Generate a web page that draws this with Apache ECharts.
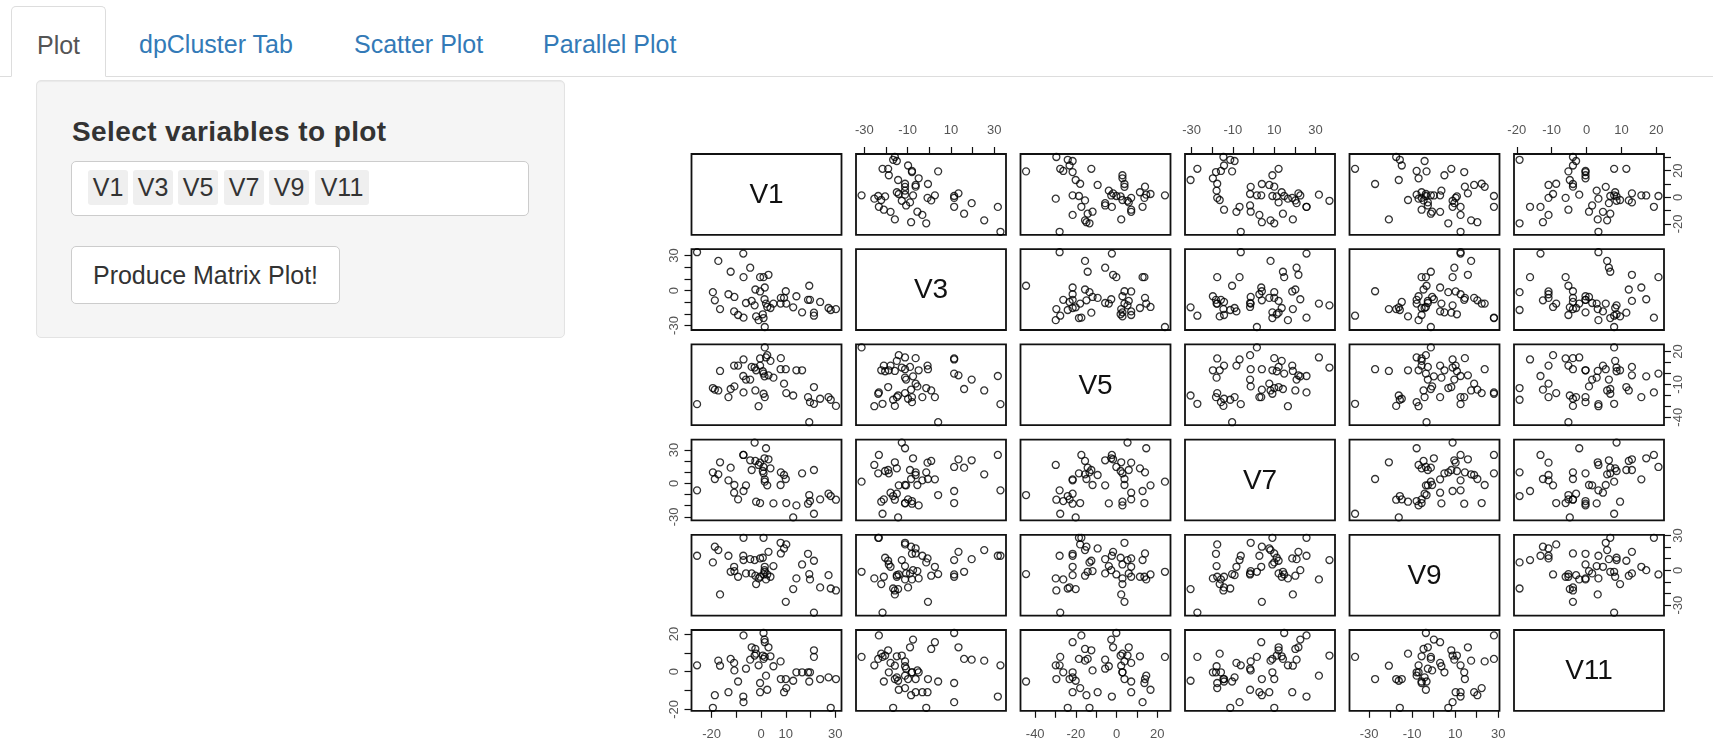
<!DOCTYPE html>
<html>
<head>
<meta charset="utf-8">
<title>Matrix Plot</title>
<script src="https://cdn.jsdelivr.net/npm/echarts@6/dist/echarts.min.js"></script>
<style>
  html, body { margin: 0; padding: 0; background: #fff; }
  body { width: 1713px; height: 745px; overflow: hidden; position: relative;
         font-family: "Liberation Sans", Arial, Helvetica, sans-serif; color: #333; }
  .tabbar { position: absolute; left: 0; top: 0; width: 1713px; height: 76px; border-bottom: 1px solid #ddd; }
  .tab { position: absolute; top: 6px; height: 70px; line-height: 76px; font-size: 25px; color: #337ab7; white-space: nowrap; }
  .tab.active { left: 11px; width: 95px; height: 71px; box-sizing: border-box; border: 1px solid #ddd;
                border-bottom: 1px solid #fff; border-radius: 5px 5px 0 0; background: #fff; color: #555; text-align: center; }
  .well { position: absolute; left: 36px; top: 80px; width: 529px; height: 258px; box-sizing: border-box;
          background: #f5f5f5; border: 1px solid #e3e3e3; border-radius: 5px; box-shadow: inset 0 1px 1px rgba(0,0,0,.05); }
  .lbl { position: absolute; left: 72px; top: 116px; font-size: 28px; letter-spacing: 0.4px; font-weight: bold; color: #333; white-space: nowrap; }
  .sel { position: absolute; left: 71px; top: 161px; width: 458px; height: 55px; box-sizing: border-box;
         background: #fff; border: 1px solid #ccc; border-radius: 5px; }
  .chip { position: absolute; top: 170px; height: 35px; line-height: 35px; background: #efefef; border-radius: 3px;
          font-size: 25px; color: #333; text-align: center; }
  .btn { position: absolute; left: 71px; top: 246px; width: 269px; height: 58px; box-sizing: border-box;
         background: #fff; border: 1px solid #ccc; border-radius: 5px; font-size: 25px; line-height: 56px;
         color: #333; text-align: center; white-space: nowrap; }
  #matrix { position: absolute; left: 590px; top: 80px; width: 1123px; height: 665px; }
</style>
</head>
<body>
  <div class="tabbar"></div>
  <div class="tab active">Plot</div>
  <div class="tab" style="left:139px">dpCluster Tab</div>
  <div class="tab" style="left:354px">Scatter Plot</div>
  <div class="tab" style="left:543px">Parallel Plot</div>

  <div class="well"></div>
  <div class="lbl">Select variables to plot</div>
  <div class="sel"></div>
  <div class="chip" style="left:88px;width:40px">V1</div>
  <div class="chip" style="left:133px;width:40px">V3</div>
  <div class="chip" style="left:178px;width:40px">V5</div>
  <div class="chip" style="left:224px;width:40px">V7</div>
  <div class="chip" style="left:269px;width:40px">V9</div>
  <div class="chip" style="left:315px;width:54px">V11</div>
  <div class="btn">Produce Matrix Plot!</div>

  <div id="matrix"></div>

<script>
// Variables shown in the scatterplot matrix (one value per observation)
const VARS = ['V1', 'V3', 'V5', 'V7', 'V9', 'V11'];

const V1  = [-25.9,-19.5,-18.7,-17.3,-16.6,-13.2,-12.3,-10.9,-10.8,-9.3,-7.2,-7.1,-7.1,-6.1,-4.4,-3.8,-2.6,-2.3,-2.0,-1.0,-0.4,-0.4,0.7,1.0,1.0,1.4,1.5,1.5,2.0,2.5,3.0,3.8,5.0,7.9,8.0,9.3,10.0,10.2,13.0,14.3,16.6,19.0,19.5,19.8,21.4,21.4,23.9,27.3,28.2,30.3];
const V3  = [32.9,-1.4,-8.4,25.4,-15.9,-3.2,16.1,-17.9,-5.5,-21.0,31.7,11.5,-23.3,-10.7,19.6,-8.9,-12.7,0.9,-22.2,-25.4,11.5,-0.8,-20.4,11.5,-23.6,-7.5,2.6,-31.3,-11.2,-14.1,13.5,-15.0,-11.2,-11.2,-6.3,-6.3,-0.6,-11.2,-14.4,-4.9,-18.7,-8.0,4.1,-8.0,-19.0,-21.6,-9.8,-15.0,-16.7,-15.9];
const V5  = [-28.0,-13.3,-14.8,-15.5,2.3,-21.6,-14.2,7.2,-11.8,7.2,-2.3,12.8,-17.3,-5.6,-5.6,6.0,5.4,-15.5,2.9,-29.9,13.7,7.2,2.0,-0.1,-18.5,-2.6,-21.6,23.8,14.6,16.7,-1.7,11.5,-3.8,3.9,14.0,-9.3,3.9,-17.9,-20.1,2.9,2.9,-21.6,-44.5,-26.2,-12.4,-27.7,-23.1,-21.6,-24.0,-29.6];
const V7  = [-6.2,10.0,4.0,8.2,19.0,2.8,14.2,-8.3,-1.4,-14.3,25.6,-6.8,25.6,-1.7,20.8,12.1,36.7,20.2,-16.4,16.6,-17.6,18.7,11.2,14.8,9.1,22.6,3.7,1.6,31.6,-1.7,21.7,13.6,-17.9,-1.4,10.0,7.6,4.0,-17.6,-30.5,-19.7,9.1,-18.2,-10.4,-15.8,12.1,-27.2,-14.3,-9.2,-11.3,-14.6];
const V9  = [12.5,6.8,20.3,17.4,-20.8,12.5,-1.3,3.0,-0.7,-5.6,12.5,8.8,28.0,-2.7,9.6,-2.7,8.8,-4.7,-11.9,-7.0,-5.6,10.2,10.8,-3.6,28.0,0.1,3.0,-1.3,-7.9,-3.6,15.9,-5.6,3.6,23.7,14.5,18.8,-27.2,22.3,-16.2,-7.0,5.0,14.2,-3.3,-7.9,8.2,-36.5,-14.8,-4.2,-15.7,-17.4];
const V11 = [3.4,-19.2,-12.5,5.9,3.2,-10.9,6.8,4.7,0.7,-5.2,-13.2,-16.2,19.3,1.6,6.4,13.0,8.6,12.1,9.6,3.4,-6.0,-10.9,8.6,20.6,6.8,17.1,15.7,7.9,-2.1,-9.6,13.0,8.2,2.9,5.5,-3.9,-10.9,-3.9,-8.7,-4.8,-0.3,-0.3,-0.3,-5.2,-0.3,11.4,7.9,-3.9,-3.0,-19.2,-3.9];

// Tick positions per variable
const TICKS_V1  = [-20, -10, 0, 10, 20, 30];
const TICKS_V3  = [-30, -20, -10, 0, 10, 20, 30];
const TICKS_V5  = [-40, -30, -20, -10, 0, 10, 20];
const TICKS_V7  = [-30, -20, -10, 0, 10, 20, 30];
const TICKS_V9  = [-30, -20, -10, 0, 10, 20, 30];
const TICKS_V11 = [-20, -10, 0, 10, 20];

// Tick labels that are printed on each outer side
const LABELS_TOP    = { V3: [-30, -10, 10, 30], V7: [-30, -10, 10, 30], V11: [-20, -10, 0, 10, 20] };
const LABELS_BOTTOM = { V1: [-20, 0, 10, 30], V5: [-40, -20, 0, 20], V9: [-30, -10, 10, 30] };
const LABELS_LEFT   = { V3: [-30, 0, 30], V7: [-30, 0, 30], V11: [-20, 0, 20] };
const LABELS_RIGHT  = { V1: [-20, 0, 20], V5: [-40, -10, 20], V9: [-30, 0, 30] };

const DATA  = { V1, V3, V5, V7, V9, V11 };
const TICKS = { V1: TICKS_V1, V3: TICKS_V3, V5: TICKS_V5, V7: TICKS_V7, V9: TICKS_V9, V11: TICKS_V11 };

// Panel geometry inside the chart container (px)
const PANEL = { left: 101.5, top: 74, w: 150, h: 80.8, dx: 164.5, dy: 95.2 };
const FONT = '"Liberation Sans", Arial, Helvetica, sans-serif';
const LABEL_MARGIN = { top: 17, bottom: 17, left: 11, right: 8 };

// Data range widened by 4% on each side
function paddedRange(arr) {
  const lo = Math.min(...arr), hi = Math.max(...arr), pad = (hi - lo) * 0.04;
  return [lo - pad, hi + pad];
}

function axisDef(gridIndex, range, position, ticks, labels, vertical) {
  const shown = !!position;
  return {
    type: 'value', gridIndex: gridIndex,
    min: range[0], max: range[1],
    position: position || (vertical ? 'left' : 'bottom'),
    axisLine: { show: false, onZero: false },
    splitLine: { show: false },
    axisTick: { show: shown, inside: false, length: 7, customValues: ticks,
                lineStyle: { color: '#111', width: 1.2 } },
    axisLabel: { show: shown, customValues: labels || [], rotate: vertical ? 90 : 0,
                 margin: shown ? LABEL_MARGIN[position] : 8, fontSize: 13, color: '#555', fontFamily: FONT },
    silent: true
  };
}

const n = VARS.length;
const grids = [], xAxes = [], yAxes = [], series = [], texts = [];

for (let i = 0; i < n; i++) {
  for (let j = 0; j < n; j++) {
    const k = i * n + j;
    const left = PANEL.left + j * PANEL.dx, top = PANEL.top + i * PANEL.dy;
    grids.push({ left: left, top: top, width: PANEL.w, height: PANEL.h,
                 show: true, borderColor: '#111', borderWidth: 1.8, backgroundColor: 'transparent',
                 containLabel: false, outerBoundsMode: 'none' });
    const xv = VARS[j], yv = VARS[i];
    const xr = paddedRange(DATA[xv]), yr = paddedRange(DATA[yv]);

    if (i === j) {
      xAxes.push({ type: 'value', gridIndex: k, show: false, min: 0, max: 1 });
      yAxes.push({ type: 'value', gridIndex: k, show: false, min: 0, max: 1 });
      texts.push({ type: 'text', x: left + PANEL.w / 2, y: top + PANEL.h / 2 + 1, silent: true,
                   style: { text: xv, font: '28px ' + FONT, fill: '#111',
                            textAlign: 'center', textVerticalAlign: 'middle' } });
      continue;
    }

    let xPos = null, xLab = null, yPos = null, yLab = null;
    if (i === 0 && j % 2 === 1) { xPos = 'top'; xLab = LABELS_TOP[xv]; }
    if (i === n - 1 && j % 2 === 0) { xPos = 'bottom'; xLab = LABELS_BOTTOM[xv]; }
    if (j === 0 && i % 2 === 1) { yPos = 'left'; yLab = LABELS_LEFT[yv]; }
    if (j === n - 1 && i % 2 === 0) { yPos = 'right'; yLab = LABELS_RIGHT[yv]; }

    xAxes.push(axisDef(k, xr, xPos, TICKS[xv], xLab, false));
    yAxes.push(axisDef(k, yr, yPos, TICKS[yv], yLab, true));

    series.push({
      type: 'scatter', xAxisIndex: k, yAxisIndex: k,
      data: DATA[xv].map((v, idx) => [v, DATA[yv][idx]]),
      symbol: 'circle', symbolSize: 7,
      itemStyle: { color: 'rgba(0,0,0,0)', borderColor: '#000', borderWidth: 1.3 },
      silent: true
    });
  }
}

const chart = echarts.init(document.getElementById('matrix'), null, { renderer: 'canvas' });
chart.setOption({
  animation: false,
  grid: grids,
  xAxis: xAxes,
  yAxis: yAxes,
  series: series,
  graphic: texts
});
</script>
</body>
</html>
